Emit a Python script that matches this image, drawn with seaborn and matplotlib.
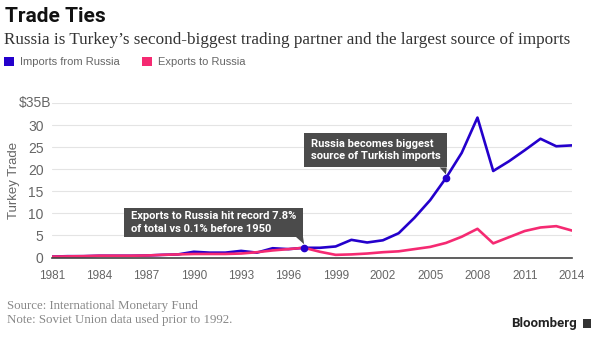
import matplotlib
matplotlib.use("Agg")
import matplotlib.pyplot as plt
from matplotlib.patches import Rectangle, Polygon, Patch
from matplotlib.transforms import blended_transform_factory, offset_copy
import seaborn as sns
import pandas as pd

# ---- data (billions of US dollars) ----
years = list(range(1981, 2015))
imports_from_russia = [0.2, 0.3, 0.3, 0.4, 0.4, 0.4, 0.45, 0.6, 0.7, 1.3,
                       1.1, 1.1, 1.5, 1.1, 2.1, 1.9, 2.2, 2.2, 2.5, 4.0,
                       3.4, 3.9, 5.5, 9.0, 13.0, 18.0, 23.7, 31.7, 19.6, 21.8,
                       24.3, 26.9, 25.2, 25.4]
exports_to_russia = [0.2, 0.25, 0.3, 0.4, 0.4, 0.4, 0.45, 0.6, 0.7, 0.8,
                     0.8, 0.8, 0.9, 1.2, 1.6, 1.9, 2.2, 1.3, 0.6, 0.7,
                     0.9, 1.2, 1.4, 1.9, 2.4, 3.3, 4.7, 6.5, 3.2, 4.6,
                     6.0, 6.8, 7.1, 6.1]
series_names = ["Imports from Russia", "Exports to Russia"]
series_colors = ["#2400cc", "#f52a72"]
x_ticks = list(range(1981, 2015, 3))
y_ticks = [0, 5, 10, 15, 20, 25, 30, 35]
y_tick_labels = ["0", "5", "10", "15", "20", "25", "30", "$35B"]

notes = [
    (1997, 2.2, "Exports to Russia hit record 7.8%\nof total vs 0.1% before 1950"),
    (2006, 18.0, "Russia becomes biggest\nsource of Turkish imports"),
]

df = pd.DataFrame({
    "year": years * 2,
    "value": imports_from_russia + exports_to_russia,
    "series": [series_names[0]] * len(years) + [series_names[1]] * len(years),
})

sns.set_theme(style="white")
plt.rcParams["font.family"] = ["Liberation Sans", "DejaVu Sans"]

W, H = 600, 342
fig = plt.figure(figsize=(W / 100, H / 100), dpi=100)
ax = fig.add_axes([52 / W, 1 - 257.5 / H, 520 / W, 154.5 / H])

sns.lineplot(data=df, x="year", y="value", hue="series",
             palette=dict(zip(series_names, series_colors)),
             linewidth=1.9, legend=False, ax=ax, zorder=3)

ax.set_xlim(1981, 2014)
ax.set_ylim(0, 35)
ax.set_xticks(x_ticks)
ax.set_xticklabels([str(t) for t in x_ticks])
ax.set_yticks(y_ticks)
# the top label carries the unit and hangs further right, so it is drawn separately
ax.set_yticklabels(y_tick_labels[:-1] + [""])
ax.grid(axis="y", color="#e4e4e4", linewidth=0.8)
ax.grid(axis="x", visible=False)
for side in ["top", "right", "left"]:
    ax.spines[side].set_visible(False)
ax.spines["bottom"].set_color("#444444")
ax.spines["bottom"].set_linewidth(1.2)
ax.spines["bottom"].set_zorder(4)
ax.tick_params(axis="x", direction="out", length=5, width=1.0, color="#444444",
               labelsize=8.5, labelcolor="#666666", pad=4)
ax.tick_params(axis="y", length=0, labelsize=10, labelcolor="#666666", pad=6)
unit_tf = offset_copy(blended_transform_factory(ax.transAxes, ax.transData),
                      fig=fig, x=-1, y=0, units="dots")
ax.text(0, y_ticks[-1], y_tick_labels[-1], transform=unit_tf, ha="right",
        va="center", fontsize=10, color="#666666")
ax.set_xlabel("")
ax.set_ylabel("Turkey Trade", fontsize=9.5, color="#666666")
ax.yaxis.set_label_coords((20 - 52) / 520, 0.5)

# callout boxes with a small tail pointing at the marked year
box_specs = [
    # (left, bottom, right, top) in data units
    (1985.57, 4.66, 1996.93, 11.25),
    (1996.99, 20.4, 2006.05, 28.3),
]
for (px, py, text), (l, b, r, t) in zip(notes, box_specs):
    ax.add_patch(Rectangle((l, b), r - l, t - b, facecolor="#4b4b4b",
                           edgecolor="none", zorder=5))
    ax.add_patch(Polygon([(r - 0.45, b), (r, b), (px, py + 0.8)], closed=True,
                         facecolor="#4b4b4b", edgecolor="none", zorder=5))
    ax.text(l + 0.45, (b + t) / 2, text, color="white", fontsize=8,
            fontweight="bold", family=["Roboto", "DejaVu Sans"],
            va="center", ha="left", linespacing=1.35, zorder=6)
    ax.plot([px], [py], marker="o", markersize=4.5, color=series_colors[0],
            zorder=7)

# header
fig.text(5 / W, 1 - 17 / H, "Trade Ties", fontsize=15, fontweight="bold",
         color="#111111", va="center", ha="left",
         family=["Roboto", "DejaVu Sans"])
fig.text(4 / W, 1 - 40 / H,
         "Russia is Turkey\u2019s second-biggest trading partner and the largest source of imports",
         fontsize=12.3, color="#333333", va="center", ha="left",
         family=["Liberation Serif", "DejaVu Serif"])

handles = [Patch(facecolor=c, edgecolor="none") for c in series_colors]
fig.legend(handles, series_names, loc="center left",
           bbox_to_anchor=(0 / W, 1 - 62 / H), ncol=2, frameon=False,
           fontsize=8, labelcolor="#666666", handlelength=0.9,
           handleheight=0.9, handletextpad=0.5, columnspacing=2.0,
           borderaxespad=0)

# footer
fig.text(7 / W, 1 - 306 / H, "Source: International Monetary Fund",
         fontsize=9.3, color="#888888", va="center", ha="left",
         family=["Liberation Serif", "DejaVu Serif"])
fig.text(7 / W, 1 - 320 / H, "Note: Soviet Union data used prior to 1992.",
         fontsize=9.3, color="#888888", va="center", ha="left",
         family=["Liberation Serif", "DejaVu Serif"])
fig.text(577 / W, 1 - 323 / H, "Bloomberg", fontsize=9.5, fontweight="bold",
         color="#222222", va="center", ha="right",
         family=["Roboto", "DejaVu Sans"])
fig.patches.append(Rectangle((583 / W, 1 - 327.5 / H), 8 / W, 9 / H,
                             transform=fig.transFigure, facecolor="#333333",
                             edgecolor="none"))

fig.savefig("out.png", dpi=100)
